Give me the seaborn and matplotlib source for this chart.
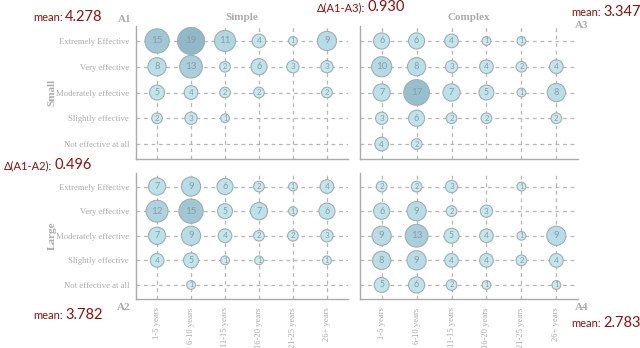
import numpy as np
import pandas as pd
import matplotlib
matplotlib.use("Agg")
import matplotlib.pyplot as plt
import seaborn as sns
from matplotlib.colors import LinearSegmentedColormap, Normalize

# Survey answers: rows are effectiveness ratings, columns are years of experience
ratings = ["Extremely Effective", "Very effective", "Moderately effective",
           "Slightly effective", "Not effective at all"]
years = ["1-5 years", "6-10 years", "11-15 years", "16-20 years",
         "21-25 years", "26+ years"]

# counts per panel (0 = no answers)
small_simple = [[15, 19, 11, 4, 1, 9],
                [8, 13, 2, 6, 3, 3],
                [5, 4, 2, 2, 0, 2],
                [2, 3, 1, 0, 0, 0],
                [0, 0, 0, 0, 0, 0]]
small_complex = [[6, 6, 4, 1, 1, 0],
                 [10, 8, 3, 4, 2, 4],
                 [7, 17, 7, 5, 1, 8],
                 [3, 6, 2, 2, 0, 2],
                 [4, 2, 0, 0, 0, 0]]
large_simple = [[7, 9, 6, 2, 1, 4],
                [12, 15, 5, 7, 1, 6],
                [7, 9, 4, 2, 2, 3],
                [4, 5, 1, 1, 0, 1],
                [0, 1, 0, 0, 0, 0]]
large_complex = [[2, 2, 3, 0, 1, 0],
                 [6, 9, 2, 3, 0, 0],
                 [9, 13, 5, 4, 1, 9],
                 [8, 9, 4, 4, 2, 4],
                 [5, 6, 2, 1, 0, 1]]

mean_labels = {"A1": "4.278", "A2": "3.782", "A3": "3.347", "A4": "2.783"}
delta_a1_a2 = "0.496"
delta_a1_a3 = "0.930"

GREY = "#ababab"
RED = "#8b1010"
SERIF = ["Liberation Serif", "DejaVu Serif"]
SANS = ["Lato", "DejaVu Sans"]

sns.set_theme(style="white")
plt.rcParams["font.family"] = SERIF

cmap = LinearSegmentedColormap.from_list("bub", ["#c8ecf3", "#b4dbe5", "#8fb8c9"])
norm = Normalize(1, 19)

W, H = 640, 348
fig = plt.figure(figsize=(W / 100, H / 100), dpi=100)


def px_axes(x0, x1, y0, y1):
    return fig.add_axes([x0 / W, 1 - y1 / H, (x1 - x0) / W, (y1 - y0) / H])


def to_long(grid):
    recs = []
    for r, row in enumerate(grid):
        for c, v in enumerate(row):
            if v > 0:
                recs.append({"x": c, "y": 4 - r, "count": v})
    return pd.DataFrame(recs)


def draw_panel(ax, grid, ylim, show_y, show_x):
    df = to_long(grid)
    ax.set_axisbelow(True)
    for i in range(len(years)):
        ax.axvline(i, color="#b5b5b5", lw=0.9, ls=(0, (3, 3)), zorder=0)
    for j in range(len(ratings)):
        ax.axhline(j, color="#b5b5b5", lw=0.9, ls=(0, (3, 3)), zorder=0)
    sns.scatterplot(data=df, x="x", y="y", size="count", sizes=(40, 380),
                    size_norm=(1, 19), hue="count", palette=cmap, hue_norm=norm,
                    edgecolor="#a3adb0", linewidth=0.8, alpha=1.0,
                    legend=False, ax=ax, zorder=3)
    for _, rec in df.iterrows():
        v = rec["count"]
        fs = min(7.0, 4.2 + 0.9 * np.sqrt(v))
        ax.text(rec["x"], rec["y"], str(int(v)), ha="center", va="center",
                fontsize=fs, color="#8e9a9e", family=SANS, zorder=4)
    ax.set_xlim(-0.62, 5.62)
    ax.set_ylim(*ylim)
    ax.set_xticks(range(len(years)))
    ax.set_yticks(range(len(ratings)))
    ax.set_yticklabels(ratings[::-1] if show_y else [])
    ax.set_xticklabels(years if show_x else [], rotation=90)
    ax.set_xlabel("")
    ax.set_ylabel("")
    ax.tick_params(axis="both", length=4, width=0.8, color=GREY,
                   labelcolor=GREY, labelsize=6.2, pad=1, direction="out")
    ax.tick_params(axis="x", pad=2)
    for s in ["top", "right"]:
        ax.spines[s].set_visible(False)
    for s in ["left", "bottom"]:
        ax.spines[s].set_color(GREY)
        ax.spines[s].set_linewidth(1.0)
    ax.set_facecolor("white")


ax1 = px_axes(136, 348, 26, 159)
ax3 = px_axes(360, 578, 26, 159)
ax2 = px_axes(136, 348, 173, 299)
ax4 = px_axes(360, 578, 173, 299)

draw_panel(ax1, small_simple, (-0.58, 4.58), True, False)
draw_panel(ax3, small_complex, (-0.58, 4.58), False, False)
draw_panel(ax2, large_simple, (-0.57, 4.55), True, True)
draw_panel(ax4, large_complex, (-0.57, 4.55), False, True)


def ftext(x, y, s, **kw):
    fig.text(x / W, 1 - y / H, s, **kw)


bold = dict(color=GREY, fontweight="bold", family=SERIF)
ftext(242, 17, "Simple", ha="center", va="center", fontsize=8, **bold)
ftext(469, 17, "Complex", ha="center", va="center", fontsize=8, **bold)
ftext(131, 20, "A1", ha="right", va="center", fontsize=8, **bold)
ftext(131, 307, "A2", ha="right", va="center", fontsize=8, **bold)
ftext(582, 25, "A3", ha="center", va="center", fontsize=8, **bold)
ftext(582, 307, "A4", ha="center", va="center", fontsize=8, **bold)
ftext(52, 92, "Small", ha="center", va="center", rotation=90, fontsize=8, **bold)
ftext(52, 236, "Large", ha="center", va="center", rotation=90, fontsize=8, **bold)


def red_label(x, y, head, value):
    t = fig.text(x / W, 1 - y / H, head, ha="left", va="baseline",
                 fontsize=8, color=RED, family=SANS)
    fig.canvas.draw()
    bb = t.get_window_extent()
    fig.text(bb.x1 / W + 0.004, 1 - y / H, value, ha="left", va="baseline",
             fontsize=10.5, color=RED, family=SANS)


red_label(33, 21, "mean:", mean_labels["A1"])
red_label(571, 16, "mean:", mean_labels["A3"])
red_label(33, 319, "mean:", mean_labels["A2"])
red_label(571, 327, "mean:", mean_labels["A4"])
red_label(317, 11, "\u0394(A1-A3):", delta_a1_a3)
red_label(4, 169, "\u0394(A1-A2):", delta_a1_a2)

fig.savefig("out.png", dpi=100, facecolor="white")
